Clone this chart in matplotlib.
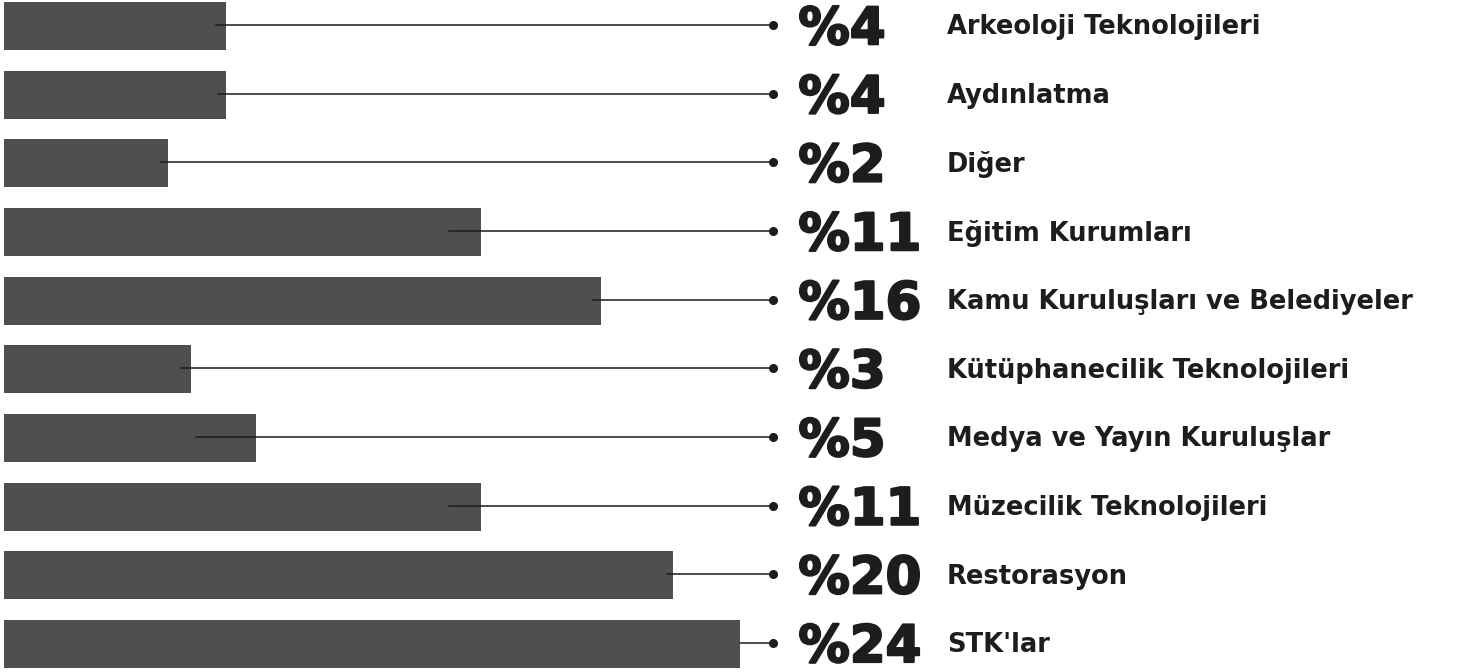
import matplotlib
matplotlib.use("Agg")
import matplotlib.pyplot as plt
import matplotlib.patheffects as pe
import numpy as np

# kategoriler ve oranlar
categories = ["Arkeoloji Teknolojileri", "Aydınlatma", "Diğer", "Eğitim Kurumları",
              "Kamu Kuruluşları ve Belediyeler", "Kütüphanecilik Teknolojileri",
              "Medya ve Yayın Kuruluşlar", "Müzecilik Teknolojileri", "Restorasyon", "STK'lar"]
percents = [4, 4, 2, 11, 16, 3, 5, 11, 20, 24]
# bar uzunluklari (en uzun bar = 100)
bar_values = [30.2, 30.2, 22.3, 64.8, 81.1, 25.4, 34.2, 64.8, 90.9, 100.0]
# cizgi baslangici (bar icinde)
line_start = [28.8, 29.1, 21.3, 60.5, 80.0, 24.1, 26.1, 60.5, 90.1, 100.0]

bar_col = "#4f4f4d"
ink = "#1d1d1b"

fig = plt.figure(figsize=(14.58, 6.72), dpi=100)
ax = fig.add_axes([0, 0, 1, 1])
ax.set_xlim(-0.54, 197.5)
ax.set_ylim(9.41, -0.38)
ax.axis("off")

y = np.arange(len(categories))
ax.barh(y, bar_values, height=0.70, left=0, color=bar_col)

dot_x = 104.4
for i in range(len(categories)):
    ax.plot([line_start[i], dot_x], [y[i] - 0.015, y[i] - 0.015], color=ink, lw=1.1, zorder=3)
    ax.plot(dot_x, y[i] - 0.015, "o", color=ink, ms=5.5, zorder=4)
    ax.text(107.9, y[i] + 0.06, "%" + str(percents[i]), fontsize=37, fontweight="bold",
            family="DejaVu Sans", color=ink, va="center", ha="left",
            path_effects=[pe.withStroke(linewidth=1.6, foreground=ink)])
    ax.text(128.1, y[i] + 0.02, categories[i], fontsize=18.5, fontweight="bold",
            family="DejaVu Sans", color=ink, va="center", ha="left")

fig.savefig("out.png", dpi=100, facecolor="white")
